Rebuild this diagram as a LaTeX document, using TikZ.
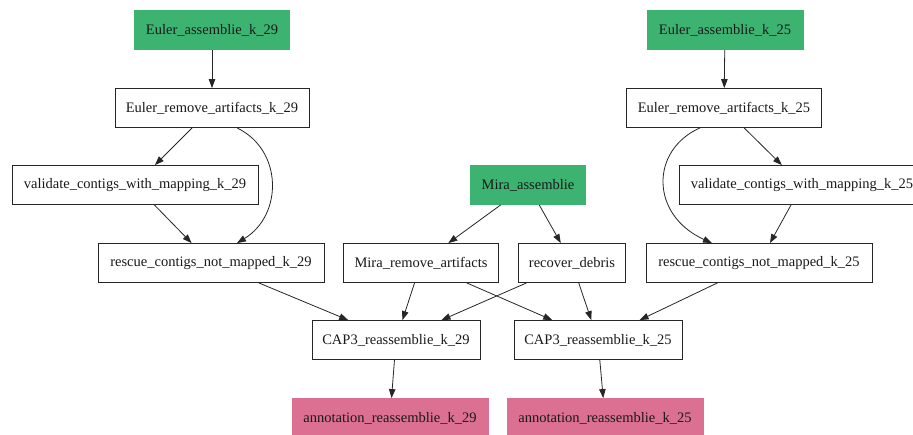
\documentclass[tikz,border=0pt]{standalone}
\usepackage{fontspec}
\setmainfont{Liberation Serif}
\usetikzlibrary{arrows.meta,calc}
\definecolor{taskgreen}{RGB}{60,179,113}
\definecolor{taskpink}{RGB}{219,112,147}
\begin{document}
\begin{tikzpicture}[x=1pt,y=-1pt,
  task/.style={draw=black!85,line width=0.8pt,rectangle,minimum height=39pt,inner sep=0pt,
    font=\fontsize{14.5}{17}\selectfont,text=black!90},
  source/.style={task,draw=taskgreen,fill=taskgreen},
  sink/.style={task,draw=taskpink,fill=taskpink},
  edge/.style={draw=black!85,line width=0.8pt,-{Triangle[length=9pt,width=6.5pt]}}]
\useasboundingbox (0,0) rectangle (913,434);
\clip (0,0) rectangle (913,434);

% k = 29 branch
\node[source,minimum width=155pt] (ea29) at (212,30) {Euler\_assemblie\_k\_29};
\node[task,minimum width=194pt] (er29) at (212,108) {Euler\_remove\_artifacts\_k\_29};
\node[task,minimum width=246pt] (val29) at (135,185) {validate\_contigs\_with\_mapping\_k\_29};
\node[task,minimum width=226pt] (res29) at (211,263) {rescue\_contigs\_not\_mapped\_k\_29};

% k = 25 branch
\node[source,minimum width=156pt] (ea25) at (725,30) {Euler\_assemblie\_k\_25};
\node[task,minimum width=195pt] (er25) at (724,108) {Euler\_remove\_artifacts\_k\_25};
\node[task,minimum width=246pt] (val25) at (802,185) {validate\_contigs\_with\_mapping\_k\_25};
\node[task,minimum width=226pt] (res25) at (759,263) {rescue\_contigs\_not\_mapped\_k\_25};

% Mira branch
\node[source,minimum width=115pt] (mira) at (528,185) {Mira\_assemblie};
\node[task,minimum width=155pt] (mrem) at (421,263) {Mira\_remove\_artifacts};
\node[task,minimum width=107pt] (debris) at (572,263) {recover\_debris};

% reassembly and annotation
\node[task,minimum width=168pt] (cap29) at (396,340) {CAP3\_reassemblie\_k\_29};
\node[task,minimum width=168pt] (cap25) at (598,340) {CAP3\_reassemblie\_k\_25};
\node[sink,minimum width=196pt] (ann29) at (390,418) {annotation\_reassemblie\_k\_29};
\node[sink,minimum width=196pt] (ann25) at (605,418) {annotation\_reassemblie\_k\_25};

% connectors
\draw[edge] (ea29) -- (er29);
\draw[edge] (er29) -- (val29);
\draw[edge] ($(er29.south)+(25,0)$) .. controls (283,150) and (283,215) .. ($(res29.north)+(26,0)$);
\draw[edge] (val29) -- (res29);

\draw[edge] (ea25) -- (er25);
\draw[edge] (er25) -- (val25);
\draw[edge] ($(er25.south)+(-24,0)$) .. controls (650,150) and (650,215) .. ($(res25.north)+(-47,0)$);
\draw[edge] (val25) -- (res25);

\draw[edge] (mira) -- (mrem);
\draw[edge] (mira) -- (debris);

\draw[edge] (res29) -- (cap29);
\draw[edge] (mrem) -- (cap29);
\draw[edge] (mrem) -- (cap25);
\draw[edge] (debris) -- (cap29);
\draw[edge] (debris) -- (cap25);
\draw[edge] (res25) -- (cap25);

\draw[edge] (cap29) -- (ann29);
\draw[edge] (cap25) -- (ann25);
\end{tikzpicture}
\end{document}
